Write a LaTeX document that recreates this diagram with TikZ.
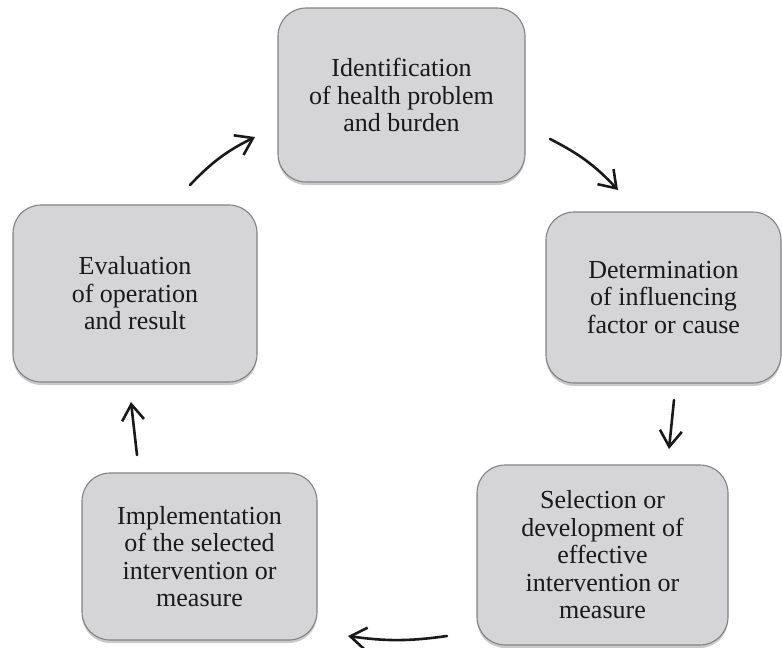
\documentclass[tikz,border=0pt]{standalone}
\usepackage{fontspec}
\setmainfont{Liberation Serif}
\usetikzlibrary{arrows.meta,shadows}
\definecolor{boxfill}{RGB}{213,213,215}
\definecolor{boxline}{RGB}{130,130,133}
\definecolor{arrowcol}{RGB}{25,25,25}
\tikzset{
  stepbox/.style={draw=boxline, line width=1.1pt, fill=boxfill, rounded corners=28pt,
    align=center, inner sep=0pt, text=black!90,
    drop shadow={shadow xshift=0pt, shadow yshift=-3pt, opacity=0.35, fill=black!60},
    font=\fontsize{26pt}{27.5pt}\selectfont},
  flow/.style={draw=arrowcol, line width=2.6pt, line cap=round,
    -{Straight Barb[length=16pt,width=22pt,line width=2.6pt]}}
}
\begin{document}
\begin{tikzpicture}[x=1pt,y=-1pt]
\useasboundingbox (0,0) rectangle (782,648);
\node[stepbox, minimum width=247pt, minimum height=174pt] (ident) at (401.5,95)
  {Identification\\of health problem\\and burden};
\node[stepbox, minimum width=235pt, minimum height=171pt] (determ) at (663.5,297.5)
  {Determination\\of influencing\\factor or cause};
\node[stepbox, minimum width=251pt, minimum height=180pt] (select) at (602.5,555)
  {Selection or\\development of\\effective\\intervention or\\measure};
\node[stepbox, minimum width=235pt, minimum height=167pt] (impl) at (199.5,556.5)
  {Implementation\\of the selected\\intervention or\\measure};
\node[stepbox, minimum width=244pt, minimum height=177pt] (eval) at (135,293.5)
  {Evaluation\\of operation\\and result};
\coordinate (a1s) at (190,185); \coordinate (a1e) at (255,137);
\coordinate (a2s) at (550,139); \coordinate (a2e) at (618,190);
\coordinate (a3s) at (674,400); \coordinate (a3e) at (669,449);
\coordinate (a4s) at (447,636); \coordinate (a4e) at (348,636);
\coordinate (a5s) at (137,455); \coordinate (a5e) at (131,402);
\draw[flow] (a1s) to[bend left=10] (a1e);
\draw[flow] (a2s) to[bend left=10] (a2e);
\draw[flow] (a3s) to (a3e);
\draw[flow] (a4s) to[bend left=8] (a4e);
\draw[flow] (a5s) to (a5e);
\end{tikzpicture}
\end{document}
